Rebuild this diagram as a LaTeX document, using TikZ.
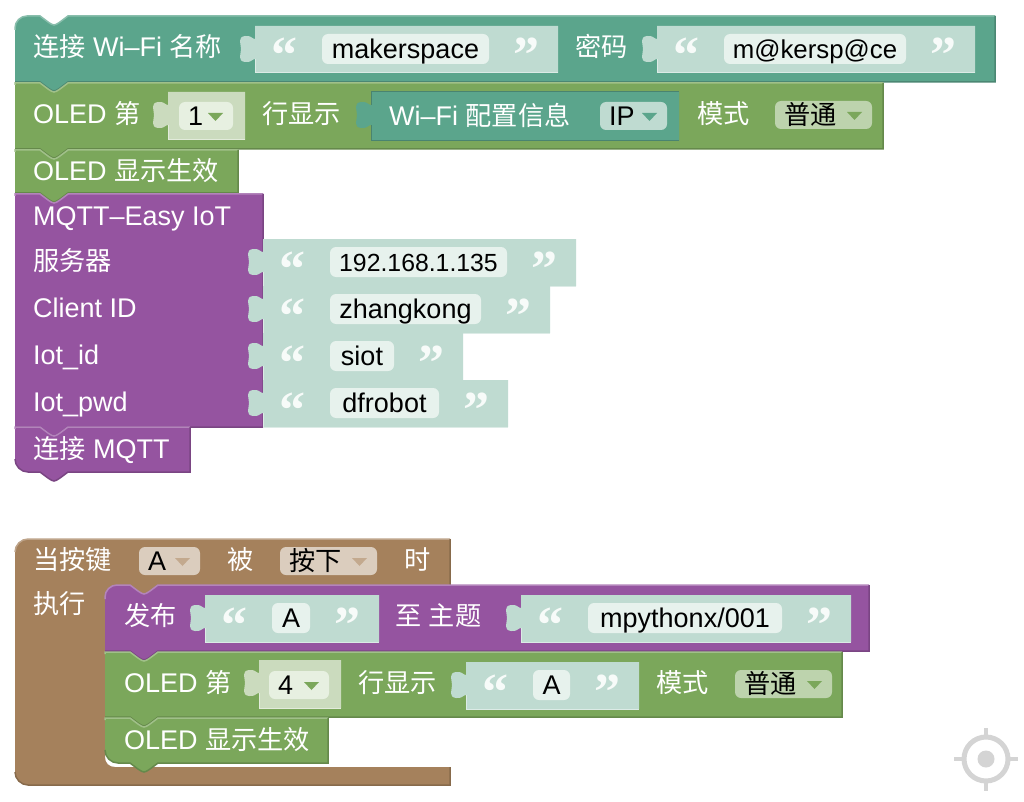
\documentclass[tikz,border=0pt]{standalone}
\usepackage{fontspec}
\setmainfont{Liberation Sans}
\newfontfamily\cjk[Scale=0.97]{Noto Sans CJK SC}
\newfontfamily\quotefont{Liberation Serif}
\newcommand{\zh}[1]{{\cjk #1}}
\newcommand{\smtxt}[2]{{\fontsize{#1}{30}\selectfont #2}}
\definecolor{tealblk}{HTML}{5BA58C}
\definecolor{greenblk}{HTML}{7BA75B}
\definecolor{purpleblk}{HTML}{9554A0}
\definecolor{brownblk}{HTML}{A5815C}
\definecolor{tealval}{HTML}{BFDBD1}
\definecolor{greenval}{HTML}{CBDBBE}
\definecolor{tealchip}{HTML}{E7F2ED}
\definecolor{greenchip}{HTML}{E7F0E1}
\definecolor{modechip}{HTML}{BDD3AD}
\definecolor{brownchip}{HTML}{DBCDBE}
\definecolor{brownarrow}{HTML}{C3A98E}
\definecolor{aimgrey}{HTML}{D4D4D4}
\tikzset{
  lbl/.style={anchor=west, inner sep=0pt, text=white, font=\fontsize{27}{30}\selectfont, text height=22pt, text depth=3pt},
  chiptxt/.style={inner sep=0pt, text=black, font=\fontsize{27}{30}\selectfont, text height=22pt, text depth=3pt},
  quot/.style={anchor=base, inner sep=0pt, text=white!88!tealval, font=\quotefont\bfseries\fontsize{52}{52}\selectfont}
}
% colour, x, y, width, height, top corner, bottom corner
\newcommand{\stmtblock}[7]{%
  \begin{scope}[shift={(#2,#3)}]
    \fill[#1] (0,#6) .. controls (0,#6*.45) and (#6*.45,0) .. (#6,0) -- (25,0) -- (33,6) .. controls (39,10) .. (45,6) -- (53,0) -- (#4,0) -- (#4,#5) -- (53,#5)
      -- (45,#5+6) .. controls (39,#5+10) .. (33,#5+6) -- (25,#5) -- (#7,#5) .. controls (#7*.45,#5) and (0,#5-#7*.45) .. (0,#5-#7) -- cycle;
    \draw[#1!72!white, line width=1.5pt] (0,#6+2) -- (0,#6) .. controls (0,#6*.45) and (#6*.45,0) .. (#6,0) -- (25,0) -- (33,6) .. controls (39,10) .. (45,6) -- (53,0) -- (#4,0);
    \draw[#1!82!black, line width=1.5pt] (#4,0) -- (#4,#5) -- (53,#5)
      -- (45,#5+6) .. controls (39,#5+10) .. (33,#5+6) -- (25,#5) -- (#7,#5) .. controls (#7*.45,#5) and (0,#5-#7*.45) .. (0,#5-#7);
  \end{scope}}
% colour, x, y, width, height, edge colour
\newcommand{\valblock}[6]{%
  \begin{scope}[shift={(#2,#3)}]
    \fill[#1] (0,0) -- (#4,0) -- (#4,#5) -- (0,#5) -- (0,33) .. controls (-3,33) and (-4,37) .. (-10,36) .. controls (-18,35) and (-14,28) .. (-14,23) .. controls (-14,18) and (-18,11) .. (-10,10) .. controls (-4,9) and (-3,13) .. (0,13) -- cycle;
    \draw[#6, line width=1pt] (0,33) -- (0,#5) -- (#4,#5);
  \end{scope}}
% name, x, y, chip width, text
\newcommand{\strsock}[5]{%
  \valblock{tealval}{#2}{#3}{#4+136}{47}{tealval!55!white}
  \begin{scope}[shift={(#2,#3)}]
    \fill[tealchip, rounded corners=6pt] (67,8) rectangle (67+#4,38);
    \node[chiptxt] (#1) at ({67+#4/2},23) {#5};
    \node[quot] (#1l) at (29,47) {“};
    \node[quot] (#1r) at ({104+#4},47) {”};
  \end{scope}}
% name, x, y, width, fill, arrow, text
\newcommand{\dropchip}[7]{%
  \begin{scope}[shift={(#2,#3)}]
    \fill[#5, rounded corners=6pt] (0,0) rectangle (#4,28);
    \node[chiptxt, anchor=west] (#1) at (9,14) {#7};
    \fill[#6] (#4-25,11) -- (#4-10,11) -- (#4-17.5,19) -- cycle;
  \end{scope}}
\begin{document}
\begin{tikzpicture}[x=1pt, y=-1pt]
  \useasboundingbox (0,0) rectangle (1024,802);
  \fill[white] (0,0) rectangle (1024,802);

  % first stack
  \stmtblock{tealblk}{15}{16}{980}{66}{12}{0}
  \node[lbl] (wifi) at (33,47) {\zh{连接} Wi–Fi \zh{名称}};
  \strsock{ssid}{255}{26}{167}{makerspace}
  \node[lbl] (pwd) at (575,47) {\zh{密码}};
  \strsock{pass}{657}{26}{182}{\smtxt{25.8}{m@kersp@ce}}

  \stmtblock{greenblk}{15}{83}{868}{66}{0}{0}
  \node[lbl] (oled1) at (33,114) {OLED \zh{第}};
  \valblock{greenval}{168}{92}{77}{48}{greenval!55!white}
  \dropchip{line1}{179}{102}{54}{greenchip}{greenblk}{1}
  \node[lbl] (show1) at (262,114) {\zh{行显示}};
  \valblock{tealblk}{371}{92}{308}{49}{tealblk!80!black}
  \draw[tealblk!80!black, line width=1pt] (371,105) -- (371,92) -- (679,92);
  \node[lbl] (info) at (389,116) {Wi–Fi \zh{配置信息}};
  \dropchip{ip}{600}{102}{67}{tealval}{tealblk}{IP}
  \node[lbl] (mode1) at (697,114) {\zh{模式}};
  \dropchip{norm1}{775}{101}{97}{modechip}{greenblk}{\zh{普通}}

  \stmtblock{greenblk}{15}{150}{223}{43}{0}{0}
  \node[lbl] (apply1) at (33,171) {OLED \zh{显示生效}};

  \stmtblock{purpleblk}{15}{194}{248}{233}{0}{0}
  \node[lbl] (mqtt) at (33,216) {MQTT–Easy IoT};
  \node[lbl] (server) at (33,261) {\zh{服务器}};
  \strsock{ipaddr}{263}{239}{177}{\smtxt{24.8}{192.168.1.135}}
  \node[lbl] (client) at (33,308) {Client ID};
  \strsock{cid}{263}{286}{151}{zhangkong}
  \node[lbl] (iotid) at (33,355) {Iot\_id};
  \strsock{sid}{263}{333}{64}{siot}
  \node[lbl] (iotpwd) at (33,402) {Iot\_pwd};
  \strsock{dfr}{263}{380}{109}{dfrobot}

  \stmtblock{purpleblk}{15}{427}{175}{45}{0}{13}
  \node[lbl] (conn) at (33,449) {\zh{连接} MQTT};

  % button stack
  \fill[brownblk] (450,585) -- (158,585) -- (150,591) .. controls (144,595) .. (138,591) -- (130,585) -- (119,585) -- (119,599) -- (105,599) -- (105,757) .. controls (105,763) and (109,767) .. (115,767) -- (450,767) -- (450,785) -- (28,785) .. controls (21,785) and (15,779) .. (15,772) -- (15,552) .. controls (15,545) and (21,539) .. (28,539) -- (450,539) -- cycle;
  \draw[brownblk!72!white, line width=1.5pt] (15,552) .. controls (15,545) and (21,539) .. (28,539) -- (450,539);
  \draw[brownblk!82!black, line width=1.5pt] (450,539) -- (450,585) (450,767) -- (450,785) -- (28,785) .. controls (21,785) and (15,779) .. (15,772);
  \node[lbl] (when) at (33,560) {\zh{当按键}};
  \dropchip{key}{139}{547}{61}{brownchip}{brownarrow}{A}
  \node[lbl] (bei) at (227,560) {\zh{被}};
  \dropchip{press}{280}{547}{97}{brownchip}{brownarrow}{\zh{按下}}
  \node[lbl] (shi) at (404,560) {\zh{时}};
  \node[lbl] (exec) at (33,604) {\zh{执行}};

  \stmtblock{purpleblk}{105}{585}{764}{66}{12}{0}
  \node[lbl] (pub) at (124,616) {\zh{发布}};
  \strsock{msg}{205}{595}{38}{A}
  \node[lbl] (topic) at (395,616) {\zh{至} \zh{主题}};
  \strsock{tpc}{521}{595}{194}{mpythonx/001}

  \stmtblock{greenblk}{105}{652}{737}{65}{0}{0}
  \node[lbl] (oled2) at (124,683) {OLED \zh{第}};
  \valblock{greenval}{259}{660}{82}{48}{greenval!55!white}
  \dropchip{line2}{269}{671}{60}{greenchip}{greenblk}{4}
  \node[lbl] (show2) at (358,683) {\zh{行显示}};
  \strsock{txt}{466}{662}{37}{A}
  \node[lbl] (mode2) at (656,683) {\zh{模式}};
  \dropchip{norm2}{735}{670}{97}{modechip}{greenblk}{\zh{普通}}

  \stmtblock{greenblk}{105}{718}{223}{45}{0}{13}
  \node[lbl] (apply2) at (124,740) {OLED \zh{显示生效}};

  % centre mark
  \draw[aimgrey, line width=5pt] (986,759) circle (22);
  \fill[aimgrey] (986,759) circle (8.5);
  \draw[aimgrey, line width=3.5pt] (986,728) -- (986,737) (986,781) -- (986,791) (954,759) -- (964,759) (1008,759) -- (1018,759);
\end{tikzpicture}
\end{document}
